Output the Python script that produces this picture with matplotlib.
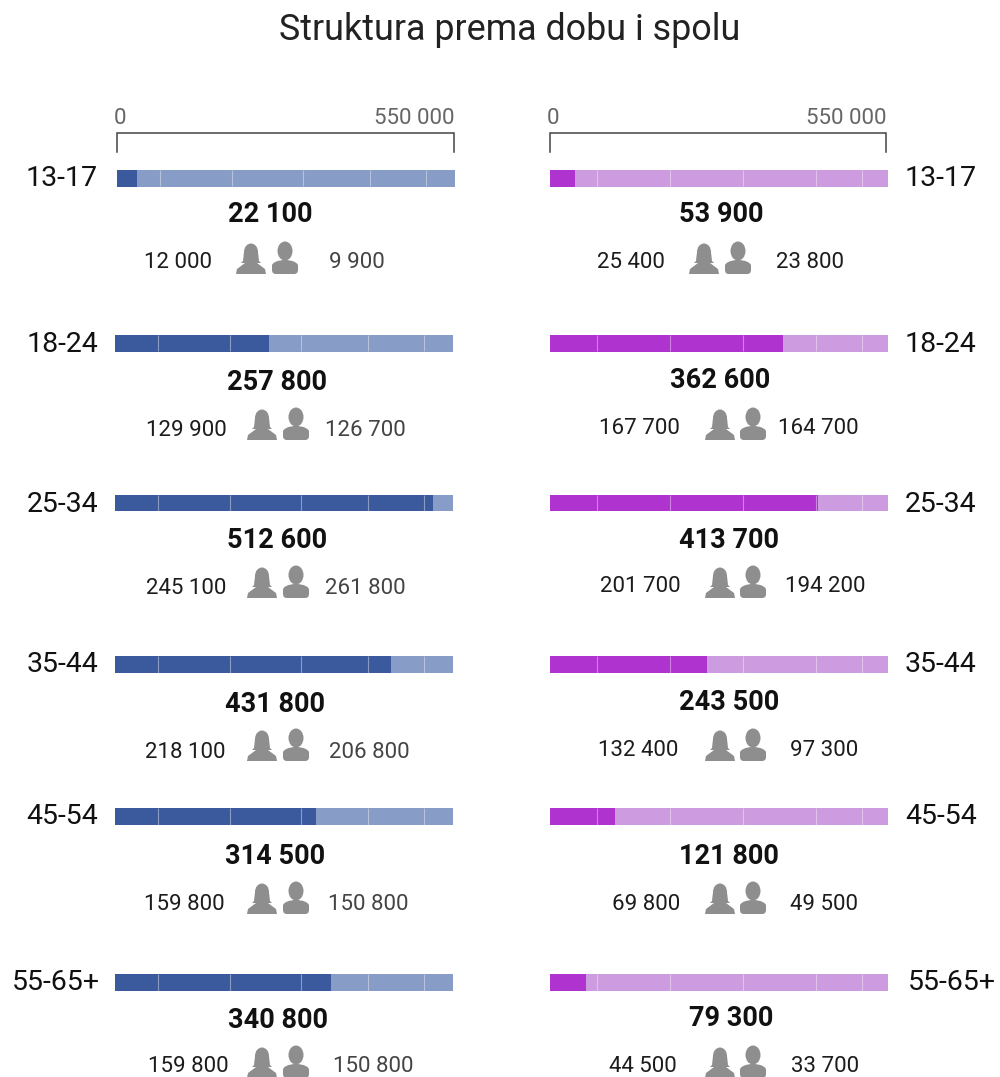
import matplotlib
matplotlib.use('Agg')
import matplotlib.pyplot as plt
from matplotlib.patches import Ellipse, Polygon, FancyBboxPatch

plt.rcParams['font.family'] = ['Roboto', 'DejaVu Sans']

W, H = 1000, 1077
AXIS_MAX = 550000

ages = ['13-17', '18-24', '25-34', '35-44', '45-54', '55-65+']

# labels as printed
left_total = ['22 100', '257 800', '512 600', '431 800', '314 500', '340 800']
left_f = ['12 000', '129 900', '245 100', '218 100', '159 800', '159 800']
left_m = ['9 900', '126 700', '261 800', '206 800', '150 800', '150 800']
right_total = ['53 900', '362 600', '413 700', '243 500', '121 800', '79 300']
right_f = ['25 400', '167 700', '201 700', '132 400', '69 800', '44 500']
right_m = ['23 800', '164 700', '194 200', '97 300', '49 500', '33 700']

left_bar = [32500, 250600, 517500, 449100, 327000, 351500]
right_bar = [40700, 379100, 436100, 255500, 105800, 58600]
# white tick marks inside the bars
left_ticks = [70000, 187000, 302000, 411000, 503000]
right_ticks = [76000, 195000, 314000, 433000, 508000]

# layout in pixels
row_y = [178, 343, 503, 664, 816, 982]
left_x0 = [117, 115, 115, 115, 115, 115]
total_y = [215, 382, 541, 704, 857, 1020]
small_y = [263, 430, 588, 752, 905, 1067]
icon_y = [259, 425, 583, 746, 899, 1063]
lt_x = [270, 277, 277, 275, 275, 278]
lf_x = [178, 186, 186, 185, 184, 188]
lm_x = [357, 365, 365, 369, 368, 373]
rt_x = [721, 720, 729, 729, 729, 731]
rf_x = [631, 639, 640, 638, 646, 643]
rm_x = [810, 818, 825, 824, 824, 825]
l_icon_f = [251, 262, 262, 262, 262, 262]
l_icon_m = [285, 296, 296, 296, 296, 296]
r_icon_f = [704, 720, 720, 720, 720, 720]
r_icon_m = [738, 753, 753, 753, 753, 753]

BAR_W, BAR_H = 338, 17
GREY = '#8e8e8e'

fig = plt.figure(figsize=(W / 100, H / 100), dpi=100, facecolor='white')

# overlay in pixel coords for text and icons
ov = fig.add_axes([0, 0, 1, 1])
ov.set_xlim(0, W)
ov.set_ylim(H, 0)
ov.axis('off')


def bar(x0, y, val, ticks, dark, light):
    ax = fig.add_axes([x0 / W, 1 - (y + BAR_H / 2) / H, BAR_W / W, BAR_H / H])
    ax.barh([0], [AXIS_MAX], height=1, color=light)
    ax.barh([0], [val], height=1, color=dark)
    ax.vlines(ticks, -0.5, 0.5, color='white', lw=0.8, alpha=0.4)
    ax.set_xlim(0, AXIS_MAX)
    ax.set_ylim(-0.5, 0.5)
    ax.axis('off')


def female(cx, cy):
    ov.add_patch(Ellipse((cx, cy - 7), 14, 17, color=GREY, lw=0))
    ov.add_patch(Polygon([[cx - 7, cy - 7], [cx + 7, cy - 7], [cx + 8, cy + 2],
                          [cx + 10, cy + 4], [cx - 10, cy + 4], [cx - 8, cy + 2]],
                         color=GREY, lw=0))
    ov.add_patch(Polygon([[cx - 15, cy + 15], [cx - 14, cy + 10], [cx - 6, cy + 4],
                          [cx + 6, cy + 4], [cx + 14, cy + 10], [cx + 15, cy + 15]],
                         color=GREY, lw=0))


def male(cx, cy):
    ov.add_patch(Ellipse((cx, cy - 8), 15, 19, color=GREY, lw=0))
    ov.add_patch(Ellipse((cx, cy + 7), 26, 12, color=GREY, lw=0))
    ov.add_patch(FancyBboxPatch((cx - 9, cy + 8), 18, 3, boxstyle='round,pad=4,rounding_size=4',
                                color=GREY, lw=0))


# title
ov.text(510, 30, 'Struktura prema dobu i spolu', fontsize=25.8, ha='center', va='center', color='#222222')

# 0 - 550 000 brackets
for x0, x1 in [(117, 454), (550, 886)]:
    ov.plot([x0, x0, x1, x1], [152, 133, 133, 152], color='#444444', lw=1.1, solid_joinstyle='miter')
    ov.text(x0 + 3, 119, '0', fontsize=16, ha='center', va='center', color='#666666')
    ov.text(x1, 119, '550 000', fontsize=16, ha='right', va='center', color='#666666')

for i, age in enumerate(ages):
    y = row_y[i]
    bar(left_x0[i], y, left_bar[i], left_ticks, '#3b5a9d', '#879cc6')
    bar(550, y, right_bar[i], right_ticks, '#ae33cf', '#cd9bdf')

    ov.text(98 if i < 5 else 100, y + 1, age, fontsize=20.5, ha='right', va='center', color='#111111')
    ov.text(905 if i < 5 else 908, y + 1, age, fontsize=20.5, ha='left', va='center', color='#111111')

    ov.text(lt_x[i], total_y[i], left_total[i], fontsize=19.5, fontweight='bold', ha='center', va='center', color='#111111')
    ov.text(rt_x[i], total_y[i] - 1, right_total[i], fontsize=19.5, fontweight='bold', ha='center', va='center', color='#111111')

    ov.text(lf_x[i], small_y[i], left_f[i], fontsize=16, ha='center', va='center', color='#1c1c1c')
    ov.text(lm_x[i], small_y[i], left_m[i], fontsize=16, ha='center', va='center', color='#444444')
    ov.text(rf_x[i], small_y[i] - 1, right_f[i], fontsize=16, ha='center', va='center', color='#1c1c1c')
    ov.text(rm_x[i], small_y[i] - 1, right_m[i], fontsize=16, ha='center', va='center', color='#1c1c1c')

    female(l_icon_f[i], icon_y[i])
    male(l_icon_m[i], icon_y[i])
    female(r_icon_f[i], icon_y[i])
    male(r_icon_m[i], icon_y[i])

fig.savefig('out.png', dpi=100, facecolor='white')
